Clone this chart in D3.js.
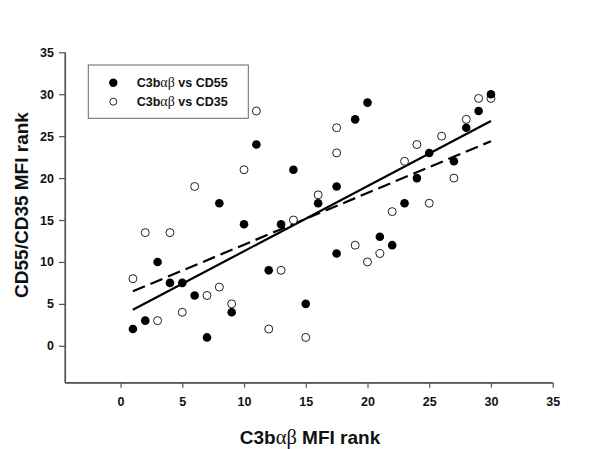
<!DOCTYPE html>
<html><head><meta charset="utf-8">
<script src="https://cdn.jsdelivr.net/npm/d3@7"></script>
<style>body{margin:0;background:#fff}svg{display:block}</style>
</head><body>
<script>
// CD55 series (filled)
const cd55X = [1,2,3,4,5,6,7,8,9,10,11,12,13,14,15,16,17.5,17.5,19,20,21,22,23,24,25,27,28,29,30];
const cd55Y = [2,3,10,7.5,7.5,6,1,17,4,14.5,24,9,14.5,21,5,17,19,11,27,29,13,12,17,20,23,22,26,28,30];
// CD35 series (open)
const cd35X = [1,2,3,4,5,6,7,8,9,10,11,12,13,14,15,16,17.5,17.5,19,20,21,22,23,24,25,26,27,28,29,30];
const cd35Y = [8,13.5,3,13.5,4,19,6,7,5,21,28,2,9,15,1,18,26,23,12,10,11,16,22,24,17,25,20,27,29.5,29.5];
// regression lines [x0,y0,x1,y1]
const fitCD55 = [1,4.3,30,26.8];
const fitCD35 = [1,6.5,30,24.4];
const xTicks = [0,5,10,15,20,25,30,35];
const yTicks = [0,5,10,15,20,25,30,35];
const seriesNames = ["C3b\u03b1\u03b2 vs CD55","C3b\u03b1\u03b2 vs CD35"];

const W=600,H=449;
const svg=d3.select("body").append("svg").attr("width",W).attr("height",H);
const x=d3.scaleLinear().domain([-4.5,35]).range([65,552.7]);
const y=d3.scaleLinear().domain([-4.4,35]).range([382.7,52.3]);
const font="Liberation Sans, Arial, sans-serif";

const xa=svg.append("g").attr("transform","translate(0,382.7)")
  .call(d3.axisBottom(x).tickValues(xTicks).tickSize(5).tickSizeOuter(0).tickPadding(9));
const ya=svg.append("g").attr("transform","translate(65,0)")
  .call(d3.axisLeft(y).tickValues(yTicks).tickSize(6).tickSizeOuter(0).tickPadding(5));
[xa,ya].forEach(a=>{
  a.selectAll(".domain,line").attr("stroke","#555").attr("stroke-width",1.2);
  a.selectAll("text").attr("font-family",font).attr("font-weight","bold").attr("font-size",12.5).attr("fill","#111");
});
svg.append("line").attr("x1",65).attr("x2",552.7).attr("y1",382.7).attr("y2",382.7).attr("stroke","#555").attr("stroke-width",1.2);
svg.append("line").attr("x1",65).attr("x2",65).attr("y1",52.3).attr("y2",382.7).attr("stroke","#555").attr("stroke-width",1.2);

// regression lines
svg.append("line").attr("x1",x(fitCD55[0])).attr("y1",y(fitCD55[1])).attr("x2",x(fitCD55[2])).attr("y2",y(fitCD55[3]))
  .attr("stroke","#000").attr("stroke-width",2.2);
svg.append("line").attr("x1",x(fitCD35[0])).attr("y1",y(fitCD35[1])).attr("x2",x(fitCD35[2])).attr("y2",y(fitCD35[3]))
  .attr("stroke","#000").attr("stroke-width",2.2).attr("stroke-dasharray","13,6");

// points
svg.append("g").selectAll("circle").data(cd35X.map((v,i)=>[v,cd35Y[i]])).join("circle")
  .attr("cx",d=>x(d[0])).attr("cy",d=>y(d[1])).attr("r",4).attr("fill","#fff").attr("stroke","#222").attr("stroke-width",1);
svg.append("g").selectAll("circle").data(cd55X.map((v,i)=>[v,cd55Y[i]])).join("circle")
  .attr("cx",d=>x(d[0])).attr("cy",d=>y(d[1])).attr("r",4.3).attr("fill","#000");

// legend
const lg=svg.append("g");
lg.append("rect").attr("x",88.3).attr("y",65).attr("width",160).attr("height",53.3).attr("fill","#fff").attr("stroke","#666").attr("stroke-width",1);
[0,1].forEach(i=>{
  const cy=82.7+i*19;
  lg.append("circle").attr("cx",113.3).attr("cy",cy).attr("r",i?3.5:4.2)
    .attr("fill",i?"#fff":"#000").attr("stroke",i?"#222":"none").attr("stroke-width",1);
  const t=lg.append("text").attr("x",136.7).attr("y",cy+4.5).attr("font-family",font).attr("font-weight","bold").attr("font-size",12.5).attr("fill","#111");
  const parts=seriesNames[i].split(/([\u03b1\u03b2]+)/);
  parts.forEach(p=>{
    const ts=t.append("tspan").text(p);
    if(/[\u03b1\u03b2]/.test(p)) ts.attr("font-family","Liberation Serif, Times New Roman, serif").attr("font-weight","normal").attr("font-size",14);
  });
});

// axis titles
const xt=svg.append("text").attr("x",310).attr("y",444).attr("text-anchor","middle")
  .attr("font-family",font).attr("font-weight","bold").attr("font-size",19).attr("fill","#111");
xt.append("tspan").text("C3b");
xt.append("tspan").text("\u03b1\u03b2").attr("font-family","Liberation Serif, Times New Roman, serif").attr("font-weight","normal").attr("font-size",20.5);
xt.append("tspan").text(" MFI rank");
svg.append("text").attr("transform","translate(28,205) rotate(-90)").attr("text-anchor","middle")
  .attr("font-family",font).attr("font-weight","bold").attr("font-size",19).attr("fill","#111").text("CD55/CD35 MFI rank");
</script>
</body></html>
